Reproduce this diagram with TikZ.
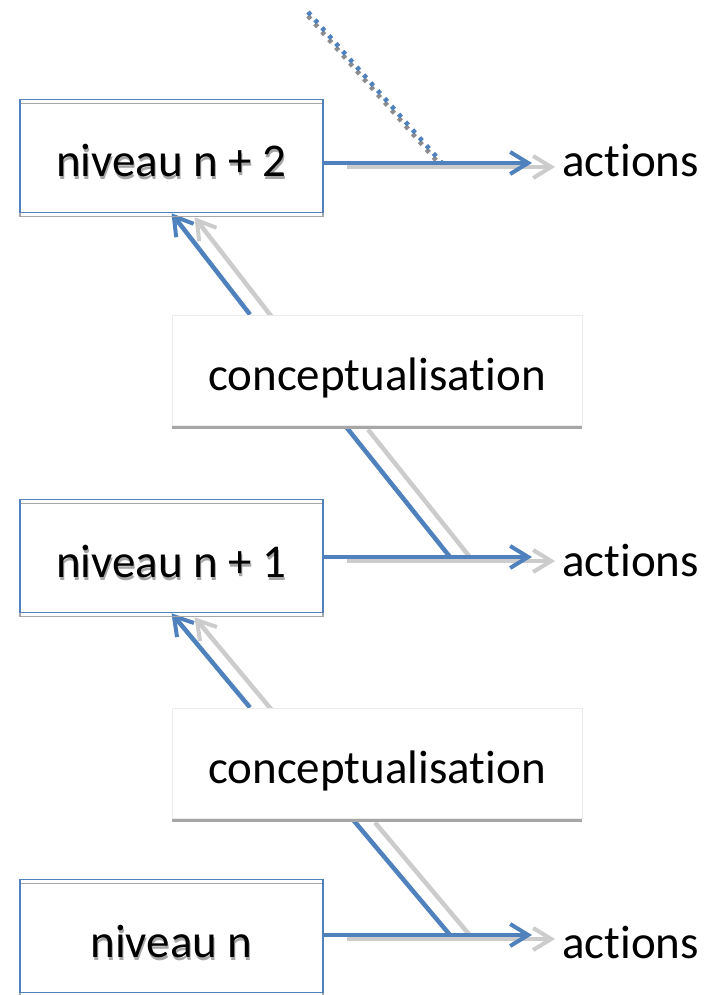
\documentclass[tikz,border=0pt]{standalone}
\usepackage{fontspec}
\setmainfont{Carlito}[Ligatures=NoCommon]
\usepackage{xcolor}
\usetikzlibrary{arrows.meta, positioning, backgrounds}
\definecolor{lineblue}{RGB}{79,129,189}
\definecolor{shadegray}{RGB}{204,204,204}
\definecolor{boxgray}{RGB}{166,166,166}
\definecolor{edgegray}{RGB}{236,236,236}
\definecolor{textgray}{RGB}{165,165,165}
\definecolor{dotgray}{RGB}{140,140,140}
\newcommand{\shadowtext}[1]{\makebox[0pt][l]{\kern1pt\raisebox{-3pt}{\textcolor{textgray}{#1}}}#1}
% links of the three levels, drawn once as shadow and once in blue
\newcommand{\levellinks}[1]{%
  \draw[#1, tip] (n2.east |- j2) -- (t2);
  \draw[#1, tip] (n1.east |- j1) -- (t1);
  \draw[#1, tip] (n0.east |- j0) -- (t0);
  \draw[#1, tip] ([xshift=-127pt]c1.north) -- (n2.south);
  \draw[#1, tip] ([xshift=-127pt]c2.north) -- (n1.south);
  \draw[#1] (j1) -- ([xshift=-32pt]c1.south);
  \draw[#1] (j0) -- ([xshift=-25pt]c2.south);
}

\begin{document}
\begin{tikzpicture}[
  x=1pt, y=-1pt,
  font=\fontsize{47}{56}\selectfont,
  level/.style={rectangle, draw=lineblue, line width=1.5pt,
                minimum width=303pt, minimum height=113pt,
                text height=42pt, text depth=0pt,
                preaction={draw=boxgray, transform canvas={yshift=-4pt}}},
  concept/.style={rectangle, draw=edgegray, fill=white, line width=1pt,
                  minimum width=410pt, minimum height=110pt,
                  text height=41pt, text depth=0pt,
                  preaction={fill=boxgray, draw=none, transform canvas={yshift=-4pt}}},
  act/.style={inner sep=0pt},
  link/.style={draw=lineblue, line width=4.5pt},
  shade/.style={draw=shadegray, line width=4.5pt, transform canvas={shift={(23,4)}}},
  tip/.style={-{Straight Barb[length=18pt, width=22pt, line width=4pt]}},
  dots/.style={line width=4.5pt, dash pattern=on 4pt off 6.5pt},
]
  \useasboundingbox (0,0) rectangle (717,995);

  \node[level]   (n2) at (171.5,156) {\shadowtext{niveau n + 2}};
  \node[concept] (c1) at (377,370)   {conceptualisation};
  \node[level]   (n1) at (171.5,556) {\shadowtext{niveau n + 1}};
  \node[concept] (c2) at (377,763)   {conceptualisation};
  \node[level]   (n0) at (171.5,936) {\shadowtext{niveau n}};

  \coordinate (top) at (308,12);
  \coordinate (j2) at (442,163);
  \coordinate (j1) at (450,557);
  \coordinate (j0) at (450,935);
  \coordinate (t2) at (532,163);
  \coordinate (t1) at (532,557);
  \coordinate (t0) at (532,935);

  \node[act, right=30pt of t2, yshift=2pt]  (a2) {actions};
  \node[act, right=30pt of t1, yshift=-3pt] (a1) {actions};
  \node[act, right=30pt of t0, yshift=-7pt] (a0) {actions};

  \begin{scope}[on background layer]
    \draw[dots, draw=dotgray, transform canvas={yshift=-4pt}] (top) -- (j2);
    \levellinks{shade}
    \levellinks{link}
    \draw[dots, draw=lineblue] (top) -- (j2);
  \end{scope}
\end{tikzpicture}
\end{document}
